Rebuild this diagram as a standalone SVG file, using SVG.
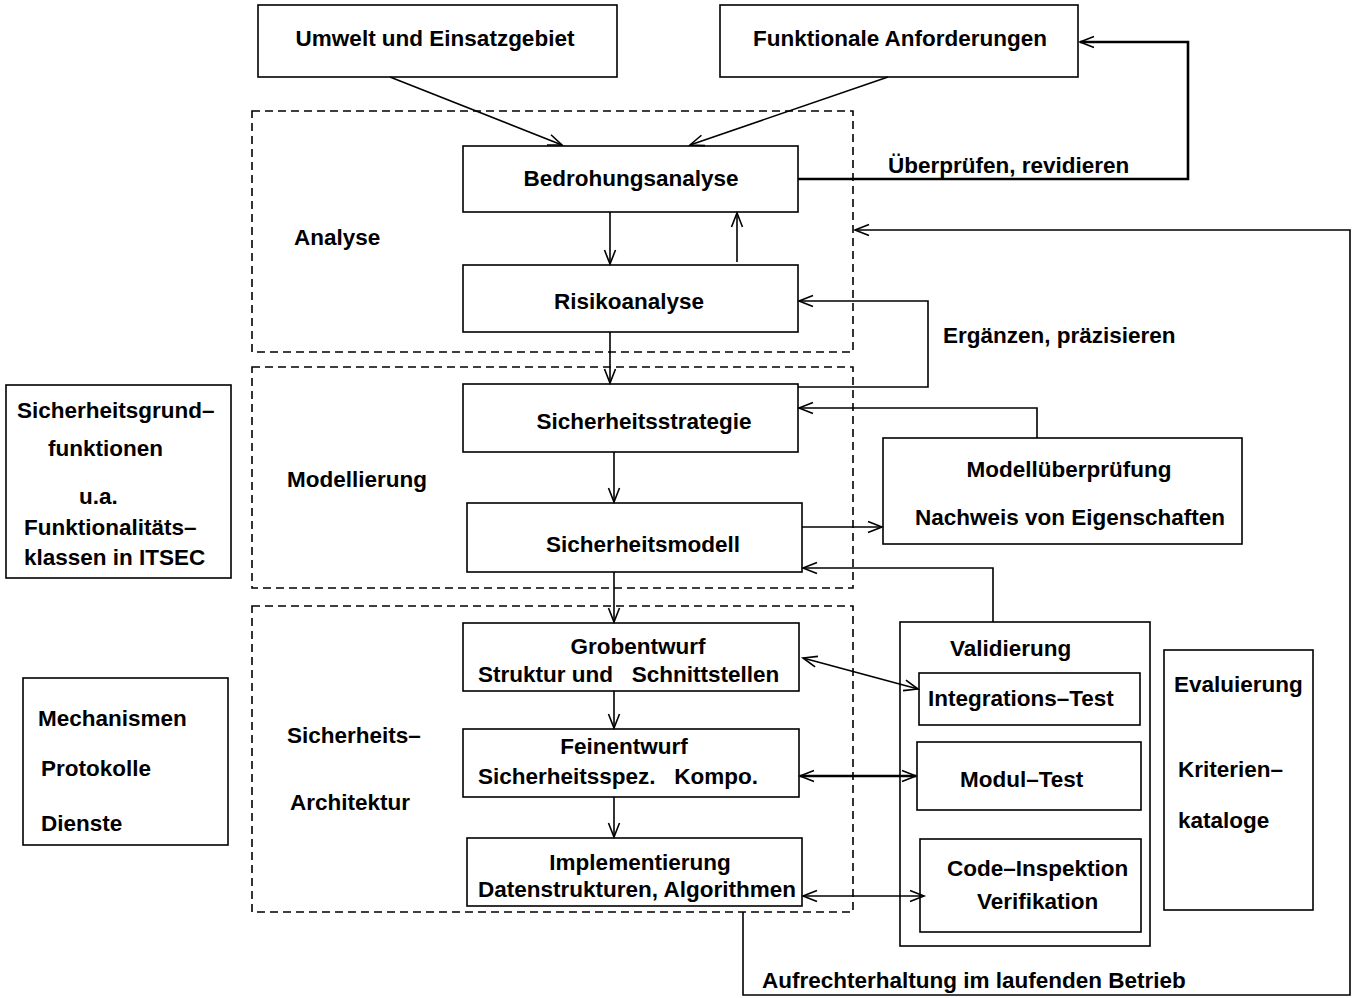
<svg xmlns="http://www.w3.org/2000/svg" width="1354" height="998" viewBox="0 0 1354 998">
<style>
text{font-family:"Liberation Sans",Arial,Helvetica,sans-serif;font-weight:bold;font-size:22.5px;fill:#000}
.c{text-anchor:middle}
.box{fill:#fff;stroke:#000;stroke-width:1.6}
.dash{fill:none;stroke:#000;stroke-width:1.6;stroke-dasharray:8 5}
.ln{fill:none;stroke:#000;stroke-width:1.6}
.th{stroke-width:2.6}
</style>
<defs>
<marker id="ah" markerUnits="userSpaceOnUse" markerWidth="16" markerHeight="14" refX="14" refY="6" orient="auto-start-reverse" overflow="visible">
<path d="M0,0.5 L14,6 L0,11.5" fill="none" stroke="#000" stroke-width="1.6"/>
</marker>
</defs>
<rect width="1354" height="998" fill="#fff"/>

<g id="groups">
<rect id="g-analyse" class="dash" x="252" y="111" width="601" height="241"/>
<rect id="g-modell" class="dash" x="252" y="367" width="601" height="221"/>
<rect id="g-arch" class="dash" x="252" y="606" width="601" height="306"/>
<text x="294" y="245">Analyse</text>
<text x="287" y="487">Modellierung</text>
<text x="287" y="743">Sicherheits–</text>
<text x="290" y="810">Architektur</text>
</g>

<g id="n-umwelt"><rect class="box" x="258" y="5" width="359" height="72"/><text class="c" x="435" y="46">Umwelt und Einsatzgebiet</text></g>
<g id="n-funktional"><rect class="box" x="720" y="5" width="358" height="72"/><text class="c" x="900" y="46">Funktionale Anforderungen</text></g>
<g id="n-bedrohung"><rect class="box" x="463" y="146" width="335" height="66"/><text class="c" x="631" y="186">Bedrohungsanalyse</text></g>
<g id="n-risiko"><rect class="box" x="463" y="265" width="335" height="67"/><text class="c" x="629" y="309">Risikoanalyse</text></g>
<g id="n-strategie"><rect class="box" x="463" y="384" width="335" height="68"/><text class="c" x="644" y="429">Sicherheitsstrategie</text></g>
<g id="n-modell"><rect class="box" x="467" y="503" width="335" height="69"/><text class="c" x="643" y="552">Sicherheitsmodell</text></g>
<g id="n-modellpruef"><rect class="box" x="883" y="438" width="359" height="106"/><text class="c" x="1069" y="477">Modellüberprüfung</text><text x="915" y="525">Nachweis von Eigenschaften</text></g>
<g id="n-grob"><rect class="box" x="463" y="623" width="336" height="68"/><text class="c" x="638" y="654">Grobentwurf</text><text x="478" y="682" xml:space="preserve">Struktur und   Schnittstellen</text></g>
<g id="n-fein"><rect class="box" x="463" y="729" width="336" height="68"/><text class="c" x="624" y="754">Feinentwurf</text><text x="478" y="784" xml:space="preserve">Sicherheitsspez.   Kompo.</text></g>
<g id="n-impl"><rect class="box" x="467" y="838" width="335" height="68"/><text class="c" x="640" y="870">Implementierung</text><text x="478" y="897">Datenstrukturen, Algorithmen</text></g>
<g id="n-valid"><rect class="box" x="900" y="622" width="250" height="324"/><text x="950" y="656">Validierung</text></g>
<g id="n-integ"><rect class="box" x="919" y="673" width="221" height="52"/><text x="928" y="706">Integrations–Test</text></g>
<g id="n-modul"><rect class="box" x="917" y="742" width="224" height="68"/><text x="960" y="787">Modul–Test</text></g>
<g id="n-code"><rect class="box" x="920" y="839" width="221" height="93"/><text x="947" y="876">Code–Inspektion</text><text x="977" y="909">Verifikation</text></g>
<g id="n-eval"><rect class="box" x="1164" y="650" width="149" height="260"/><text x="1174" y="692">Evaluierung</text><text x="1178" y="777">Kriterien–</text><text x="1178" y="828">kataloge</text></g>
<g id="n-grundfkt"><rect class="box" x="6" y="385" width="225" height="193"/><text x="17" y="418">Sicherheitsgrund–</text><text x="48" y="456">funktionen</text><text x="79" y="504">u.a.</text><text x="24" y="535">Funktionalitäts–</text><text x="24" y="565">klassen in ITSEC</text></g>
<g id="n-mech"><rect class="box" x="23" y="678" width="205" height="167"/><text x="38" y="726">Mechanismen</text><text x="41" y="776">Protokolle</text><text x="41" y="831">Dienste</text></g>

<g id="connectors">
<line class="ln" x1="390" y1="77" x2="562" y2="145" marker-end="url(#ah)"/>
<line class="ln" x1="888" y1="77" x2="690" y2="145" marker-end="url(#ah)"/>
<line class="ln" x1="610" y1="212" x2="610" y2="264" marker-end="url(#ah)"/>
<line class="ln" x1="737" y1="262" x2="737" y2="213" marker-end="url(#ah)"/>
<polyline class="ln th" points="798,179 1188,179 1188,42 1080,42" marker-end="url(#ah)"/>
<line class="ln" x1="610" y1="332" x2="610" y2="383" marker-end="url(#ah)"/>
<polyline class="ln" points="798,387 928,387 928,301 799,301" marker-end="url(#ah)"/>
<line class="ln" x1="614" y1="452" x2="614" y2="502" marker-end="url(#ah)"/>
<polyline class="ln" points="1037,438 1037,408 799,408" marker-end="url(#ah)"/>
<line class="ln" x1="802" y1="527" x2="882" y2="527" marker-end="url(#ah)"/>
<polyline class="ln" points="993,622 993,568 803,568" marker-end="url(#ah)"/>
<line class="ln" x1="614" y1="572" x2="614" y2="622" marker-end="url(#ah)"/>
<line class="ln" x1="614" y1="691" x2="614" y2="728" marker-end="url(#ah)"/>
<line class="ln" x1="614" y1="797" x2="614" y2="837" marker-end="url(#ah)"/>
<line class="ln" x1="803" y1="658" x2="918" y2="689" marker-start="url(#ah)" marker-end="url(#ah)"/>
<line class="ln th" x1="800" y1="776" x2="916" y2="776" marker-start="url(#ah)" marker-end="url(#ah)"/>
<line class="ln" x1="803" y1="896" x2="924" y2="896" marker-start="url(#ah)" marker-end="url(#ah)"/>
<polyline class="ln" points="743,912 743,995 1350,995 1350,230 855,230" marker-end="url(#ah)"/>
<text x="888" y="173">Überprüfen, revidieren</text>
<text x="943" y="343">Ergänzen, präzisieren</text>
<text x="762" y="988">Aufrechterhaltung im laufenden Betrieb</text>
</g>
</svg>
